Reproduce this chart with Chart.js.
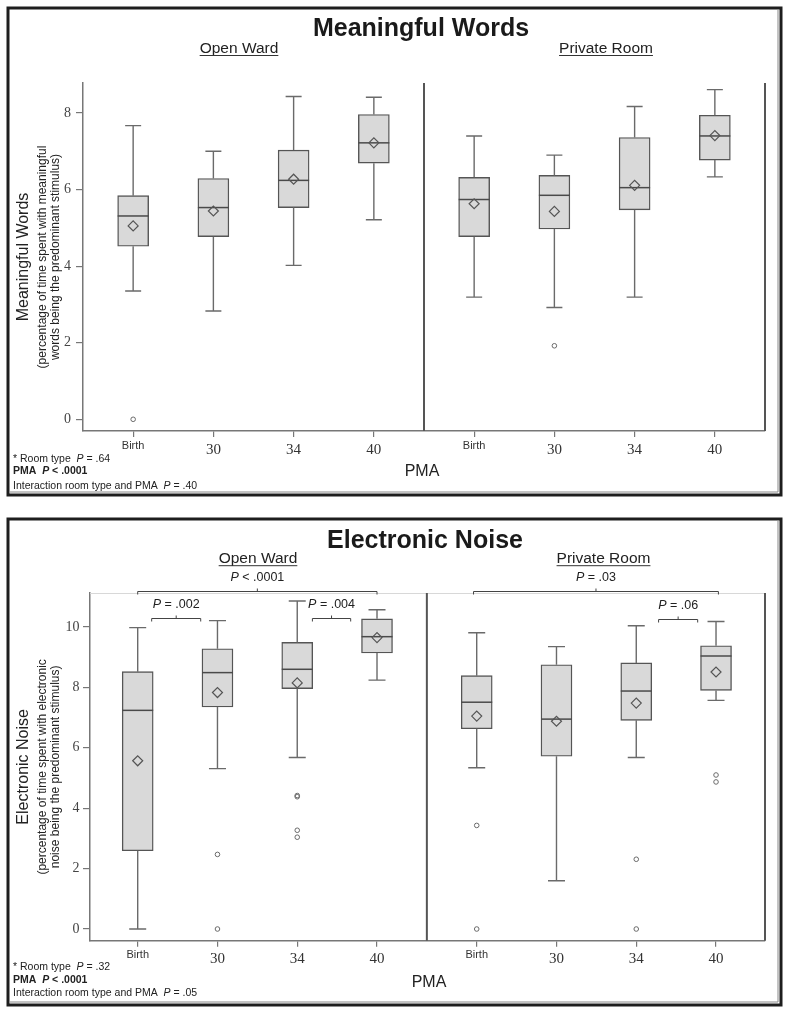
<!DOCTYPE html>
<html><head><meta charset="utf-8">
<script src="https://cdn.jsdelivr.net/npm/chart.js@4.4.1/dist/chart.umd.min.js"></script>
<style>
html,body{margin:0;padding:0;background:#fff;}
body{width:790px;height:1014px;position:relative;overflow:hidden;}
#c1{position:absolute;left:0;top:0;}
#c2{position:absolute;left:0;top:508px;}
</style></head>
<body>
<canvas id="c1" width="790" height="505"></canvas>
<canvas id="c2" width="790" height="506"></canvas>
<script>
// ---------- DATA ----------
const pmaLabels = ['Birth', '30', '34', '40'];
const roomTypes = ['Open Ward', 'Private Room'];

// Meaningful Words (Open Ward Birth,30,34,40 then Private Room Birth,30,34,40)
const mwWhiskerLow  = [3.35, 2.83, 4.02, 5.21, 3.19, 2.92, 3.19, 6.33];
const mwQ1          = [4.52, 4.77, 5.53, 6.69, 4.77, 4.97, 5.47, 6.77];
const mwMedian      = [5.31, 5.53, 6.24, 7.22, 5.74, 5.85, 6.05, 7.40];
const mwQ3          = [5.84, 6.29, 7.03, 7.96, 6.32, 6.37, 7.36, 7.94];
const mwWhiskerHigh = [7.67, 7.00, 8.43, 8.41, 7.40, 6.90, 8.17, 8.61];
const mwMean        = [5.05, 5.44, 6.27, 7.22, 5.63, 5.43, 6.11, 7.41];
const mwOutliers    = [[0], [], [], [], [], [1.92], [], []];
const mwYTicks = [0, 2, 4, 6, 8];
const mwTitle = 'Meaningful Words';
const mwYTitle = ['Meaningful Words', '(percentage of time spent with meaningful', 'words being the predominant stimulus)'];
const mwFootnotes = ['* Room type  P = .64', 'PMA  P < .0001', 'Interaction room type and PMA  P = .40'];

// Electronic Noise
const enWhiskerLow  = [0.00, 5.31, 5.68, 8.24, 5.34, 1.60, 5.68, 7.57];
const enQ1          = [2.59, 7.35, 7.96, 9.14, 6.63, 5.72, 6.91, 7.90];
const enMedian      = [7.24, 8.49, 8.60, 9.68, 7.51, 6.95, 7.88, 9.04];
const enQ3          = [8.52, 9.28, 9.49, 10.27, 8.39, 8.75, 8.81, 9.38];
const enWhiskerHigh = [9.98, 10.21, 10.86, 10.57, 9.81, 9.35, 10.04, 10.18];
const enMean        = [5.57, 7.83, 8.15, 9.65, 7.05, 6.88, 7.48, 8.51];
const enOutliers    = [[], [2.47, 0], [4.38, 4.42, 3.27, 3.04], [], [3.43, 0], [], [2.31, 0], [5.10, 4.87]];
const enYTicks = [0, 2, 4, 6, 8, 10];
const enTitle = 'Electronic Noise';
const enYTitle = ['Electronic Noise', '(percentage of time spent with electronic', 'noise being the predominant stimulus)'];
const enFootnotes = ['* Room type  P = .32', 'PMA  P < .0001', 'Interaction room type and PMA  P = .05'];
const enBracketLabels = ['P < .0001', 'P = .002', 'P = .004', 'P = .03', 'P = .06'];
const enBracketFrom   = [0, 0, 2, 4, 6];
const enBracketTo     = [3, 1, 3, 7, 7];
const enBracketLevel  = [11.2, 10.29, 10.29, 11.2, 10.26];

// ---------- HELPERS ----------
const SANS = '"Liberation Sans", Arial, sans-serif';
const SERIF = '"Liberation Serif", "Times New Roman", serif';
Chart.defaults.font.family = SANS;

function richParts(text) {
  return text.split(/(\bP\b)/).filter(s => s.length).map(s => ({t: s, i: s === 'P'}));
}
function drawRich(ctx, text, x, y, align, size, bold, color) {
  const parts = richParts(text);
  const fonts = parts.map(p => (p.i ? 'italic ' : '') + (bold ? 'bold ' : '') + size + 'px ' + SANS);
  let w = 0;
  const ws = parts.map((p, k) => { ctx.font = fonts[k]; const m = ctx.measureText(p.t).width; w += m; return m; });
  let cx = align === 'center' ? x - w / 2 : x;
  ctx.textAlign = 'left';
  ctx.fillStyle = color || '#222';
  parts.forEach((p, k) => { ctx.font = fonts[k]; ctx.fillText(p.t, cx, y); cx += ws[k]; });
}

function buildPanel(id, D, L) {
  const labels = roomTypes.flatMap(() => pmaLabels);
  const xs = labels.map((_, i) => i + (i >= 4 ? L.facetGap : 0));
  const boxData = xs.map((x, i) => ({x: x, y: [D.q1[i], D.q3[i]]}));
  const meanData = xs.map((x, i) => ({x: x, y: D.mean[i]}));
  const outData = xs.flatMap((x, i) => D.out[i].map(v => ({x: x, y: v})));

  const boxExtras = {
    id: 'boxExtras',
    afterDatasetDraw(chart, args) {
      if (args.index !== 0) return;
      const ctx = chart.ctx, xS = chart.scales.x, yS = chart.scales.y;
      ctx.save();
      xs.forEach((x, i) => {
        const px = xS.getPixelForValue(x);
        const yLo = yS.getPixelForValue(D.lo[i]), yQ1 = yS.getPixelForValue(D.q1[i]);
        const yQ3 = yS.getPixelForValue(D.q3[i]), yHi = yS.getPixelForValue(D.hi[i]);
        const yMed = yS.getPixelForValue(D.med[i]);
        ctx.strokeStyle = '#6a6a6a'; ctx.lineWidth = 1.4;
        ctx.beginPath();
        ctx.moveTo(px, yQ1); ctx.lineTo(px, yLo);
        ctx.moveTo(px - L.cap, yLo); ctx.lineTo(px + L.cap, yLo);
        ctx.moveTo(px, yQ3); ctx.lineTo(px, yHi);
        ctx.moveTo(px - L.cap, yHi); ctx.lineTo(px + L.cap, yHi);
        ctx.stroke();
        ctx.strokeStyle = '#4a4a4a'; ctx.lineWidth = 1.5;
        ctx.beginPath();
        ctx.moveTo(px - L.box / 2, yMed); ctx.lineTo(px + L.box / 2, yMed);
        ctx.stroke();
      });
      ctx.restore();
    }
  };

  const decor = {
    id: 'decor',
    afterDraw(chart) {
      const ctx = chart.ctx, ca = chart.chartArea, xS = chart.scales.x, yS = chart.scales.y;
      ctx.save();
      // frame
      ctx.strokeStyle = '#1e1e1e'; ctx.lineWidth = 3;
      ctx.strokeRect(L.frame[0], L.frame[1], L.frame[2] - L.frame[0], L.frame[3] - L.frame[1]);
      ctx.strokeStyle = '#888'; ctx.lineWidth = 1;
      ctx.beginPath();
      ctx.moveTo(L.frame[2] - 3, L.frame[1] + 2); ctx.lineTo(L.frame[2] - 3, L.frame[3] - 3);
      ctx.lineTo(L.frame[0] + 2, L.frame[3] - 3);
      ctx.stroke();
      // faint top line
      if (L.topLine) {
        ctx.strokeStyle = '#d8d8d8'; ctx.lineWidth = 1;
        ctx.beginPath(); ctx.moveTo(ca.left, ca.top + 0.5); ctx.lineTo(ca.right, ca.top + 0.5); ctx.stroke();
      }
      // facet separator and right border
      ctx.strokeStyle = '#555'; ctx.lineWidth = 2;
      const sepX = xS.getPixelForValue(3 + (1 + L.facetGap) / 2);
      ctx.beginPath();
      ctx.moveTo(sepX, ca.top); ctx.lineTo(sepX, ca.bottom);
      ctx.moveTo(ca.right, ca.top); ctx.lineTo(ca.right, ca.bottom);
      ctx.stroke();
      // title
      ctx.fillStyle = '#1a1a1a'; ctx.textAlign = 'center'; ctx.textBaseline = 'alphabetic';
      ctx.font = 'bold 25px ' + SANS;
      ctx.fillText(D.title, L.titleX, L.titleY);
      // facet headers
      ctx.font = '15.5px ' + SANS; ctx.fillStyle = '#222';
      roomTypes.forEach((r, k) => {
        const cx = L.headX[k];
        ctx.textAlign = 'center';
        ctx.fillText(r, cx, L.headY);
        const w = ctx.measureText(r).width;
        ctx.strokeStyle = '#333'; ctx.lineWidth = 1;
        ctx.beginPath(); ctx.moveTo(cx - w / 2, L.headY + 3); ctx.lineTo(cx + w / 2, L.headY + 3); ctx.stroke();
      });
      // y title (rotated)
      const midY = (ca.top + ca.bottom) / 2;
      ctx.save();
      ctx.translate(0, midY); ctx.rotate(-Math.PI / 2);
      ctx.textAlign = 'center'; ctx.textBaseline = 'middle'; ctx.fillStyle = '#222';
      ctx.font = '16px ' + SANS; ctx.fillText(D.yTitle[0], L.yTitleDY, L.yTitleX[0]);
      ctx.font = '12px ' + SANS;
      ctx.fillText(D.yTitle[1], 0, L.yTitleX[1]);
      ctx.fillText(D.yTitle[2], 0, L.yTitleX[2]);
      ctx.restore();
      // PMA
      ctx.textAlign = 'center'; ctx.textBaseline = 'middle'; ctx.fillStyle = '#222';
      ctx.font = '16px ' + SANS; ctx.fillText('PMA', L.pmaX, L.pmaY);
      // footnotes
      ctx.textBaseline = 'middle';
      D.foot.forEach((t, k) => drawRich(ctx, t, 13, L.footY[k], 'left', 10.5, k === 1, '#222'));
      // brackets
      if (D.br) {
        D.br.labels.forEach((lab, k) => {
          const x1 = xS.getPixelForValue(xs[D.br.from[k]] + L.brOff[k][0]);
          const x2 = xS.getPixelForValue(xs[D.br.to[k]] + L.brOff[k][1]);
          const y = Math.round(yS.getPixelForValue(D.br.level[k])) + 0.5;
          const mx = (x1 + x2) / 2;
          ctx.strokeStyle = '#444'; ctx.lineWidth = 1;
          ctx.beginPath();
          ctx.moveTo(x1, y + 3); ctx.lineTo(x1, y); ctx.lineTo(x2, y); ctx.lineTo(x2, y + 3);
          ctx.moveTo(mx, y); ctx.lineTo(mx, y - 3);
          ctx.stroke();
          ctx.textBaseline = 'alphabetic';
          drawRich(ctx, lab, mx, y - 10.5, 'center', 12.5, false, '#222');
        });
      }
      ctx.restore();
    }
  };

  return new Chart(document.getElementById(id), {
    type: 'bar',
    data: {
      datasets: [
        {type: 'bar', data: boxData, backgroundColor: '#d9d9d9', borderColor: '#555', borderWidth: 1.4,
         borderSkipped: false, barThickness: L.box, order: 3},
        {type: 'scatter', data: meanData, pointStyle: 'rectRot', radius: 5, borderColor: '#555',
         backgroundColor: 'rgba(0,0,0,0)', borderWidth: 1.2, order: 1},
        {type: 'scatter', data: outData, pointStyle: 'circle', radius: 2.3, borderColor: '#6a6a6a',
         backgroundColor: 'rgba(0,0,0,0)', borderWidth: 1, order: 2}
      ]
    },
    options: {
      responsive: false, animation: false, events: [],
      plugins: {legend: {display: false}, tooltip: {enabled: false}, title: {display: false}},
      layout: {padding: {left: 0, right: 790 - L.right, top: L.top, bottom: 0}},
      scales: {
        x: {
          type: 'linear', min: L.xmin, max: L.xmax, offset: false,
          afterBuildTicks: ax => { ax.ticks = xs.map(v => ({value: v})); },
          afterFit: s => { s.height = L.H - L.bottom; },
          ticks: {
            autoSkip: false, maxRotation: 0, padding: L.xPad, color: '#333',
            callback: (v, i) => labels[i],
            font: c => (c.index % 4 === 0) ? {family: SANS, size: 11, lineHeight: 0.9} : {family: SERIF, size: 15, lineHeight: 1.2}
          },
          grid: {offset: false, drawOnChartArea: false, drawTicks: true, tickLength: 6, color: '#777', lineWidth: 1.2},
          border: {display: true, color: '#777', width: 1.5}
        },
        y: {
          min: L.ymin, max: L.ymax,
          afterBuildTicks: ax => { ax.ticks = D.yTicks.map(v => ({value: v})); },
          afterFit: s => { s.width = L.left; },
          ticks: {padding: L.yPad, color: '#444', font: {family: SERIF, size: 14}},
          grid: {drawOnChartArea: false, drawTicks: true, tickLength: 7, color: '#777', lineWidth: 1.2},
          border: {display: true, color: '#777', width: 1.5}
        }
      }
    },
    plugins: [boxExtras, decor]
  });
}

buildPanel('c1', {
  lo: mwWhiskerLow, q1: mwQ1, med: mwMedian, q3: mwQ3, hi: mwWhiskerHigh, mean: mwMean, out: mwOutliers,
  yTicks: mwYTicks, title: mwTitle, yTitle: mwYTitle, foot: mwFootnotes, br: null
}, {
  H: 505, left: 83, right: 765, top: 83, bottom: 431,
  xmin: -0.625, xmax: 7.875, ymin: -0.3056, ymax: 8.783, facetGap: 0.25,
  box: 31, cap: 8, xPad: 4.5, yPad: 5,
  frame: [8, 8, 781, 495], topLine: false,
  titleX: 421, titleY: 36, headX: [239, 606], headY: 52.5,
  yTitleX: [24, 43, 56], yTitleDY: 0,
  pmaX: 422, pmaY: 472, footY: [459, 471.5, 486]
});

buildPanel('c2', {
  lo: enWhiskerLow, q1: enQ1, med: enMedian, q3: enQ3, hi: enWhiskerHigh, mean: enMean, out: enOutliers,
  yTicks: enYTicks, title: enTitle, yTitle: enYTitle, foot: enFootnotes,
  br: {labels: enBracketLabels, from: enBracketFrom, to: enBracketTo, level: enBracketLevel}
}, {
  H: 506, left: 90, right: 765, top: 85, bottom: 432.7,
  xmin: -0.598, xmax: 7.864, ymin: -0.387, ymax: 11.126, facetGap: 0.25,
  box: 31, cap: 8.5, xPad: 3.5, yPad: 3.5,
  frame: [8, 11, 781, 497], topLine: true,
  titleX: 425, titleY: 40, headX: [258, 603.5], headY: 54.7,
  yTitleX: [24, 43, 56], yTitleDY: 0,
  brOff: [[0, 0], [0.175, -0.21], [0.19, -0.33], [-0.04, 0.03], [0.28, -0.23]],
  pmaX: 429, pmaY: 475, footY: [459, 472, 484.7]
});
</script>
</body></html>
